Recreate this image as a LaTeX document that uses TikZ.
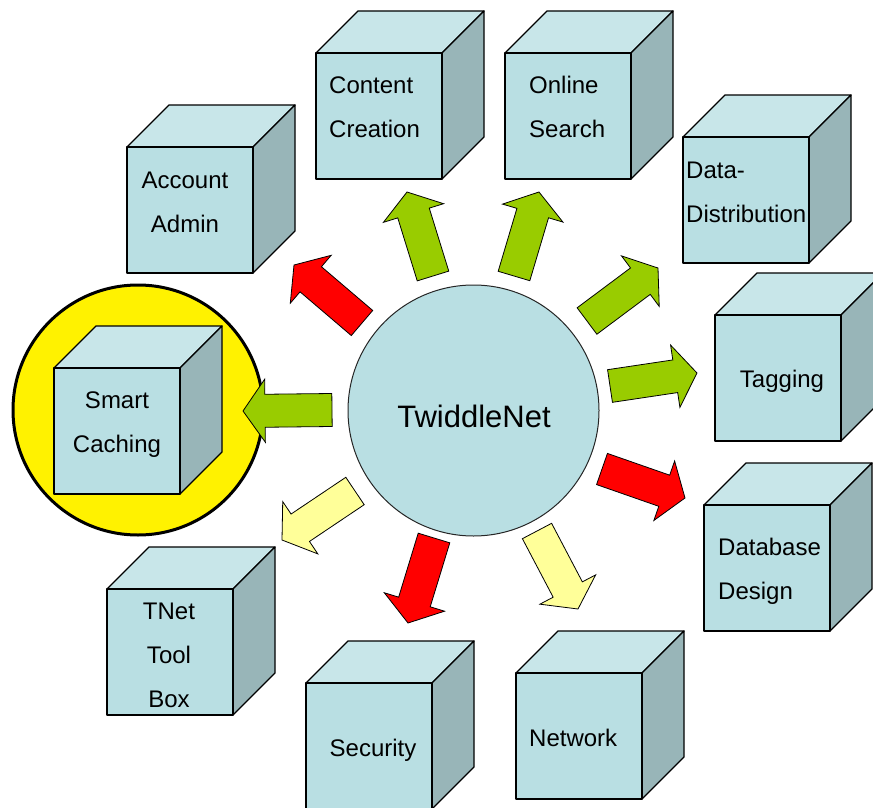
\documentclass[tikz,border=0pt]{standalone}
\usepackage{fontspec}
\setmainfont{Liberation Sans}
\usepackage{xcolor}
\usepackage{tikz}
\usetikzlibrary{calc}

\definecolor{caixa}{HTML}{B9DFE3}
\definecolor{caixatopo}{HTML}{C8E6E9}
\definecolor{caixalado}{HTML}{98B5B8}
\definecolor{verde}{HTML}{99CC00}
\definecolor{amarelo}{HTML}{FFFF99}

\tikzset{
  face/.style={draw=black, line width=1.3pt, line join=round},
  rotulo/.style={font=\fontsize{24}{44}\selectfont, inner sep=0pt},
  seta/.style={draw=black, line width=0.8pt},
}

% cubo: nome, canto superior esquerdo da frente
\newcommand{\cubo}[3]{%
  \coordinate (#1) at (#2,#3);
  \draw[face, fill=caixatopo] (#1) -- ++(42,-42) -- ++(126,0) -- ++(-42,42) -- cycle;
  \draw[face, fill=caixalado] ($(#1)+(126,0)$) -- ++(42,-42) -- ++(0,126) -- ++(-42,42) -- cycle;
  \draw[face, fill=caixa] (#1) rectangle ++(126,126);
}

% seta larga: cauda, ponta, cor
\newcommand{\seta}[3]{%
  \coordinate (#1-b) at ($(#2)!22pt!(#1)$);
  \draw[seta, fill=#3] ($(#1)!16.5pt!90:(#2)$) -- ($(#1-b)!16.5pt!90:(#2)$)
    -- ($(#1-b)!31.5pt!90:(#2)$) -- (#2) -- ($(#1-b)!31.5pt!-90:(#2)$)
    -- ($(#1-b)!16.5pt!-90:(#2)$) -- ($(#1)!16.5pt!-90:(#2)$) -- cycle;
}

\begin{document}
\begin{tikzpicture}[x=1pt, y=-1pt]
\useasboundingbox (0,0) rectangle (873,808);

% Destaque amarelo
\node[circle, draw=black, line width=3pt, fill=yellow, minimum size=250pt, inner sep=0pt] (destaque) at (138,410) {};

% Cubos
\cubo{conteudo}{316}{53}
\cubo{busca}{505}{53}
\cubo{conta}{127}{147}
\cubo{dados}{683}{137}
\cubo{cache}{54}{368}
\cubo{tags}{715}{315}
\cubo{banco}{704}{505}
\cubo{toolbox}{107}{589}
\cubo{seguranca}{306}{683}
\cubo{rede}{516}{673}

% Textos dos cubos (base = ultima linha)
\node[rotulo, anchor=base west, align=left] (t-conteudo) at (329,137) {Content\\Creation};
\node[rotulo, anchor=base west, align=left] (t-busca) at (529,137) {Online\\Search};
\node[rotulo, anchor=base, align=center] (t-conta) at (185,232) {Account\\Admin};
\node[rotulo, anchor=base west, align=left] (t-dados) at (686,222) {Data-\\Distribution};
\node[rotulo, anchor=base, align=center] (t-cache) at (117,452) {Smart\\Caching};
\node[rotulo, anchor=base] (t-tags) at (782,387) {Tagging};
\node[rotulo, anchor=base west, align=left] (t-banco) at (718,599) {Database\\Design};
\node[rotulo, anchor=base, align=center] (t-toolbox) at (169,707) {TNet\\Tool\\Box};
\node[rotulo, anchor=base] (t-seguranca) at (373,756) {Security};
\node[rotulo, anchor=base west] (t-rede) at (529,746) {Network};

% Circulo central
\node[circle, draw=black!85, line width=1pt, fill=caixa, minimum size=251pt, inner sep=0pt] (centro) at (473.5,410.5) {};
\node[font=\fontsize{31}{37}\selectfont, anchor=base, inner sep=0pt] (titulo) at (474,427) {TwiddleNet};

% Setas
\coordinate (c1) at (332,410);  \coordinate (p1) at (243,411);
\coordinate (c2) at (610,386);  \coordinate (p2) at (697,373);
\coordinate (c3) at (587,321);  \coordinate (p3) at (658,268);
\coordinate (c4) at (362,323);  \coordinate (p4) at (294,265);
\coordinate (c5) at (433,276);  \coordinate (p5) at (407,192);
\coordinate (c6) at (514,276);  \coordinate (p6) at (539,192);
\coordinate (c7) at (602,469);  \coordinate (p7) at (685,498);
\coordinate (c8) at (537,531);  \coordinate (p8) at (578,609);
\coordinate (c9) at (434,538);  \coordinate (p9) at (408,623);
\coordinate (c10) at (355,491); \coordinate (p10) at (282,540);

\seta{c1}{p1}{verde}
\seta{c2}{p2}{verde}
\seta{c3}{p3}{verde}
\seta{c4}{p4}{red}
\seta{c5}{p5}{verde}
\seta{c6}{p6}{verde}
\seta{c7}{p7}{red}
\seta{c8}{p8}{amarelo}
\seta{c9}{p9}{red}
\seta{c10}{p10}{amarelo}

\end{tikzpicture}
\end{document}
